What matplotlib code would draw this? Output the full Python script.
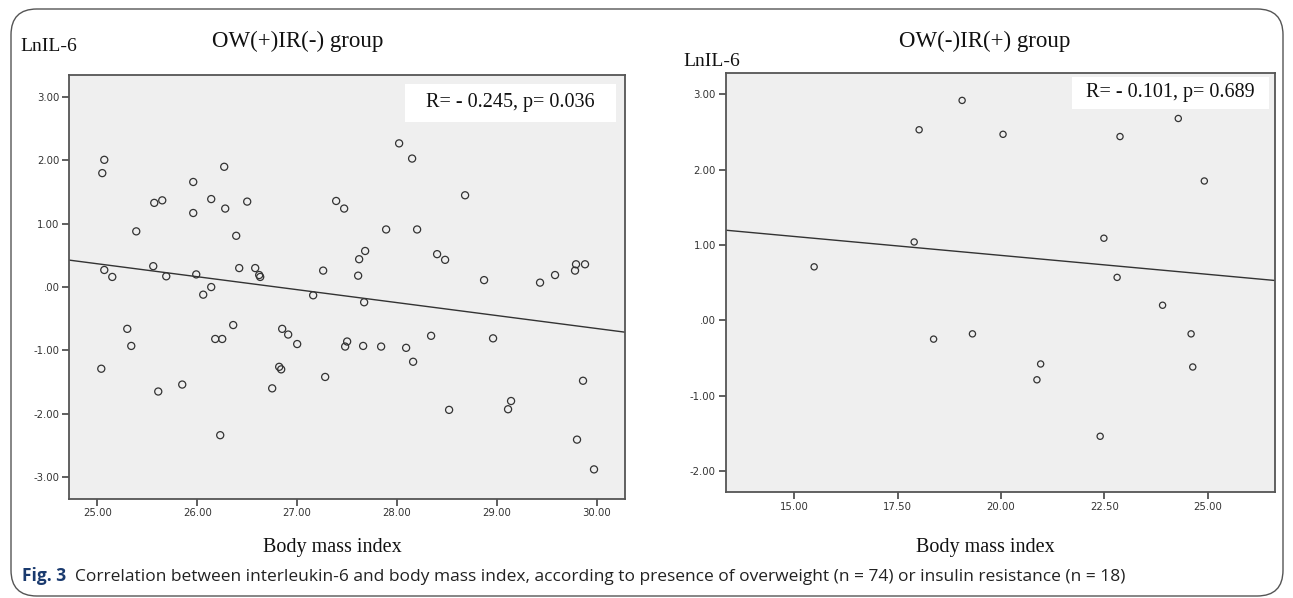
import numpy as np
import matplotlib
matplotlib.use("Agg")
import matplotlib.pyplot as plt
from matplotlib.patches import FancyBboxPatch, Rectangle
from matplotlib.ticker import FuncFormatter, FixedLocator
from matplotlib import font_manager

# ---------------- data ----------------
left_title = "OW(+)IR(-) group"
right_title = "OW(-)IR(+) group"
y_label = "LnIL-6"
x_label = "Body mass index"
left_stat = "R= - 0.245, p= 0.036"
right_stat = "R= - 0.101, p= 0.689"
caption_bold = "Fig. 3"
caption_text = ("Correlation between interleukin-6 and body mass index, according to presence of "
                "overweight (n = 74) or insulin resistance (n = 18)")

left_bmi = [25.07, 25.05, 25.39, 25.07, 25.15, 25.30, 25.34, 25.04, 25.57, 25.65,
            25.56, 25.69, 25.61, 25.85, 25.96, 25.96, 25.99, 26.06, 26.14, 26.14,
            26.27, 26.28, 26.39, 26.42, 26.50, 26.58, 26.62, 26.63, 26.36, 26.18,
            26.25, 26.23, 26.75, 26.82, 26.84, 26.85, 26.91, 27.00, 27.16, 27.26,
            27.28, 27.39, 27.47, 27.48, 27.50, 27.61, 27.62, 27.68, 27.67, 27.66,
            27.84, 27.89, 28.02, 28.15, 28.09, 28.16, 28.20, 28.34, 28.40, 28.48,
            28.52, 28.68, 28.87, 28.96, 29.14, 29.11, 29.43, 29.58, 29.78, 29.79,
            29.88, 29.86, 29.80, 29.97]
left_il6 = [2.01, 1.80, 0.88, 0.27, 0.16, -0.66, -0.93, -1.29, 1.33, 1.37,
            0.33, 0.17, -1.65, -1.54, 1.66, 1.17, 0.20, -0.12, 0.00, 1.39,
            1.90, 1.24, 0.81, 0.30, 1.35, 0.30, 0.19, 0.16, -0.60, -0.82,
            -0.82, -2.34, -1.60, -1.26, -1.30, -0.66, -0.75, -0.90, -0.13, 0.26,
            -1.42, 1.36, 1.24, -0.94, -0.86, 0.18, 0.44, 0.57, -0.24, -0.93,
            -0.94, 0.91, 2.27, 2.03, -0.96, -1.18, 0.91, -0.77, 0.52, 0.43,
            -1.94, 1.45, 0.11, -0.81, -1.80, -1.93, 0.07, 0.19, 0.26, 0.36,
            0.36, -1.48, -2.41, -2.88]

right_bmi = [15.48, 19.06, 18.02, 20.05, 22.88, 17.90, 22.49, 22.81, 18.37, 19.31,
             20.96, 20.87, 22.40, 24.29, 24.92, 23.91, 24.60, 24.64]
right_il6 = [0.71, 2.92, 2.53, 2.47, 2.44, 1.04, 1.09, 0.57, -0.25, -0.18,
             -0.58, -0.79, -1.54, 2.68, 1.85, 0.20, -0.18, -0.62]

left_xticks = [25.0, 26.0, 27.0, 28.0, 29.0, 30.0]
left_yticks = [-3.0, -2.0, -1.0, 0.0, 1.0, 2.0, 3.0]
right_xticks = [15.0, 17.5, 20.0, 22.5, 25.0]
right_yticks = [-2.0, -1.0, 0.0, 1.0, 2.0, 3.0]

# ---------------- layout ----------------
W, H = 1293, 598
fig = plt.figure(figsize=(W / 100, H / 100), dpi=100)
fig.patch.set_facecolor("white")

def fx(px):
    return px / W

def fy(py):
    return 1 - py / H

available = {f.name for f in font_manager.fontManager.ttflist}
serif = "Liberation Serif" if "Liberation Serif" in available else "DejaVu Serif"
tick_font = "DejaVu Sans"
cap_font = "Liberation Sans Narrow" if "Liberation Sans Narrow" in available else "Open Sans"

def spss_fmt(v, pos):
    s = f"{v:.2f}"
    if s.startswith("0."):
        s = s[1:]
    if s.startswith("-0."):
        s = "-" + s[2:]
    return s

def style_axes(ax, xlim, ylim, xticks, yticks):
    ax.set_facecolor("#efefef")
    ax.set_xlim(*xlim)
    ax.set_ylim(*ylim)
    ax.xaxis.set_major_locator(FixedLocator(xticks))
    ax.yaxis.set_major_locator(FixedLocator(yticks))
    ax.xaxis.set_major_formatter(FuncFormatter(spss_fmt))
    ax.yaxis.set_major_formatter(FuncFormatter(spss_fmt))
    for sp in ax.spines.values():
        sp.set_color("#555555")
        sp.set_linewidth(1.3)
    ax.tick_params(direction="out", length=5, width=1.2, color="#444444",
                   labelsize=7.3, labelcolor="#333333", pad=2)
    for lab in ax.get_xticklabels() + ax.get_yticklabels():
        lab.set_fontfamily(tick_font)

def draw_panel(ax, xs, ys, ms):
    ax.scatter(xs, ys, s=ms, facecolors="none", edgecolors="#333333",
               linewidths=0.9, zorder=3)
    slope, intercept = np.polyfit(xs, ys, 1)
    x0, x1 = ax.get_xlim()
    xx = np.array([x0, x1])
    ax.plot(xx, intercept + slope * xx, color="#333333", lw=1.0, zorder=2)

# left axes: px 69.3..625, py 75..498.5
axL = fig.add_axes([fx(69.3), fy(498.5), (625 - 69.3) / W, (498.5 - 75) / H])
style_axes(axL, (24.72, 30.28), (-3.34, 3.35), left_xticks, left_yticks)
draw_panel(axL, left_bmi, left_il6, 26)

# right axes: px 725.7..1275, py 73.3..492
axR = fig.add_axes([fx(725.7), fy(492), (1275 - 725.7) / W, (492 - 73.3) / H])
style_axes(axR, (13.34, 26.63), (-2.28, 3.28), right_xticks, right_yticks)
draw_panel(axR, right_bmi, right_il6, 20)

# stat boxes
fig.add_artist(Rectangle((fx(405), fy(121.7)), (616 - 405) / W, (121.7 - 84) / H,
                         transform=fig.transFigure, facecolor="white", edgecolor="none", zorder=5))
fig.text(fx(510.5), fy(103), left_stat, family=serif, fontsize=14.5, ha="center", va="center",
         color="#111111", zorder=6)
fig.add_artist(Rectangle((fx(1072), fy(109)), (1269 - 1072) / W, (109 - 77) / H,
                         transform=fig.transFigure, facecolor="white", edgecolor="none", zorder=5))
fig.text(fx(1170), fy(93), right_stat, family=serif, fontsize=14.5, ha="center", va="center",
         color="#111111", zorder=6)

# titles & labels
fig.text(fx(298), fy(47), left_title, family=serif, fontsize=16.5, ha="center", va="baseline",
         color="#111111")
fig.text(fx(985), fy(47), right_title, family=serif, fontsize=16.5, ha="center", va="baseline",
         color="#111111")
fig.text(fx(20), fy(51), y_label, family=serif, fontsize=14, ha="left", va="baseline",
         color="#111111")
fig.text(fx(683), fy(66), y_label, family=serif, fontsize=14, ha="left", va="baseline",
         color="#111111")
fig.text(fx(332), fy(552), x_label, family=serif, fontsize=14.5, ha="center", va="baseline",
         color="#111111")
fig.text(fx(985), fy(552), x_label, family=serif, fontsize=14.5, ha="center", va="baseline",
         color="#111111")

# caption
t1 = fig.text(fx(22), fy(581), caption_bold, family=cap_font, fontsize=12.5, weight="bold",
              ha="left", va="baseline", color="#1a3a6e")
fig.canvas.draw()
bb = t1.get_window_extent()
fig.text((bb.x1 + 9) / W, fy(581), caption_text, family=cap_font, fontsize=12.5,
         ha="left", va="baseline", color="#222222")

# outer rounded frame
fig.add_artist(FancyBboxPatch((fx(11), fy(596)), (1283 - 11) / W, (596 - 9) / H,
                              boxstyle="round,pad=0,rounding_size=0.02",
                              transform=fig.transFigure, facecolor="none",
                              edgecolor="#555555", linewidth=1.0,
                              mutation_aspect=W / H))

fig.savefig("out.png", dpi=100)
